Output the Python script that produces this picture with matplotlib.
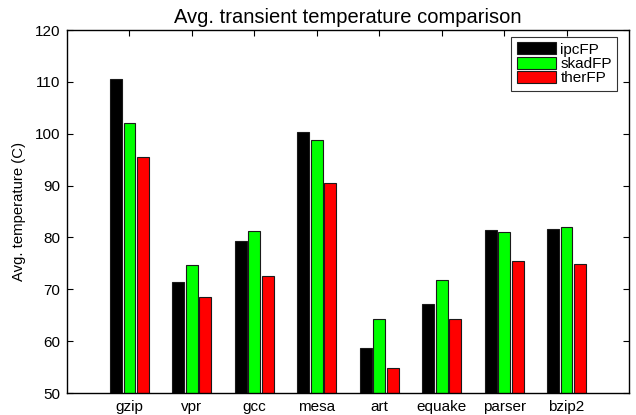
import matplotlib
matplotlib.use("Agg")
import matplotlib.pyplot as plt
import numpy as np

plt.rcParams['font.family'] = ['Liberation Sans', 'DejaVu Sans']

benchmarks = ["gzip", "vpr", "gcc", "mesa", "art", "equake", "parser", "bzip2"]
ipcFP = [110.5, 71.4, 79.3, 100.3, 58.6, 67.2, 81.4, 81.6]
skadFP = [102.1, 74.6, 81.3, 98.8, 64.3, 71.7, 81.0, 82.1]
therFP = [95.5, 68.5, 72.6, 90.5, 54.8, 64.3, 75.4, 74.9]
series_names = ["ipcFP", "skadFP", "therFP"]
series_colors = ["#000000", "#00ff00", "#ff0000"]
yticks = [50, 60, 70, 80, 90, 100, 110, 120]

fig = plt.figure(figsize=(6.36, 4.15), dpi=100)
ax = fig.add_axes([67 / 636, 1 - 393 / 415, 562 / 636, 363 / 415])

x = np.arange(1, len(benchmarks) + 1)
offset = 0.216
width = 0.19
for i, (vals, name, col) in enumerate(zip([ipcFP, skadFP, therFP], series_names, series_colors)):
    ax.bar(x + (i - 1) * offset, vals, width=width, color=col, edgecolor="#1a1a1a",
           linewidth=0.8, label=name, zorder=2)

ax.set_xlim(0, 9)
ax.set_ylim(50, 120)
ax.set_xticks(x)
ax.set_xticklabels(benchmarks)
ax.set_yticks(yticks)
ax.tick_params(direction="in", top=True, right=True, labelsize=11, length=4, width=0.8, pad=5)
for s in ax.spines.values():
    s.set_linewidth(1.0)

ax.set_title("Avg. transient temperature comparison", fontsize=14.5, pad=5)
ax.set_ylabel("Avg. temperature (C)", fontsize=10.7, labelpad=6)

leg = ax.legend(loc="upper right", bbox_to_anchor=(0.979, 0.981), borderaxespad=0,
                fontsize=11, frameon=True, fancybox=False,
                edgecolor="black", handlelength=2.55, handleheight=0.85,
                handletextpad=0.3, borderpad=0.35, labelspacing=0.0)
leg.get_frame().set_linewidth(0.8)

fig.savefig("out.png", dpi=100)
